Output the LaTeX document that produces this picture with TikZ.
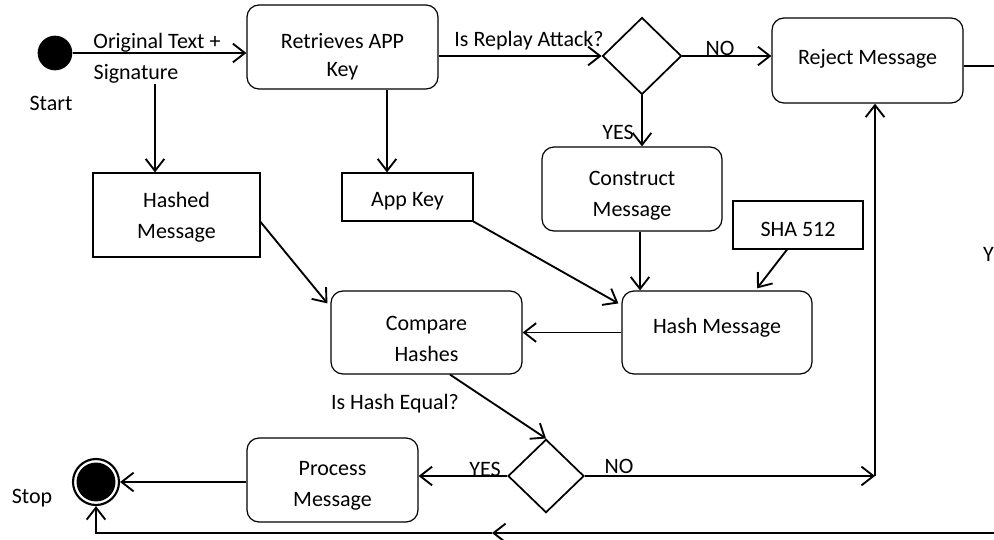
\documentclass[tikz,border=0pt]{standalone}
\usepackage{fontspec}
\setmainfont{Carlito}
\usetikzlibrary{arrows.meta,shapes.geometric,calc}
\begin{document}
\begin{tikzpicture}[x=0.75pt,y=-0.75pt,
  every node/.style={font=\fontsize{16.5}{23}\selectfont, text=black},
  rbox/.style={draw, rounded corners=9pt, line width=0.9pt, inner sep=0pt},
  sbox/.style={draw, line width=0.9pt, inner sep=0pt},
  dec/.style={draw, diamond, line width=1.3pt, inner sep=0pt},
  arr/.style={line width=1.4pt, -{Straight Barb[length=9pt,width=14pt,line width=1.4pt]}},
  txt/.style={inner sep=0pt, align=center},
  lbl/.style={inner sep=0pt}]
\useasboundingbox (0,0) rectangle (994,539);

% shapes
\node[circle, fill=black, minimum size=26pt, inner sep=0pt] (start) at (55,53) {};
\node[rbox, minimum width=143.25pt, minimum height=63pt] (retrieves) at (342.5,47) {};
\node[dec, minimum width=59.25pt, minimum height=57.75pt] (d1) at (642,56) {};
\node[rbox, minimum width=143.25pt, minimum height=63.75pt] (reject) at (867.5,60.5) {};
\node[rbox, minimum width=135pt, minimum height=63pt] (construct) at (632,189) {};
\node[sbox, minimum width=97.5pt, minimum height=36pt] (sha) at (798,225) {};
\node[rbox, minimum width=142.5pt, minimum height=62.25pt] (hash) at (717,332.5) {};
\node[rbox, minimum width=143.25pt, minimum height=62.25pt] (compare) at (426.5,332.5) {};
\node[sbox, minimum width=125.25pt, minimum height=63pt] (hashed) at (176.5,215) {};
\node[sbox, minimum width=98.25pt, minimum height=36pt] (appkey) at (407.5,197) {};
\node[dec, minimum width=57pt, minimum height=55pt] (d2) at (546,476) {};
\node[rbox, minimum width=128.25pt, minimum height=63pt] (process) at (332.5,480) {};
\node[circle, draw, line width=1.6pt, minimum size=34.5pt, inner sep=0pt] (stop) at (96,482) {};
\fill (stop.center) circle (14.6pt);

% texts of the shapes
\node[txt, font=\fontsize{16.5}{21}\selectfont] (tretrieves) at (342.5,57) {Retrieves APP\\Key};
\node[txt] (treject) at (867.5,58.5) {Reject Message};
\node[txt] (tconstruct) at (632,195.5) {Construct\\Message};
\node[txt] (tsha) at (798,229.5) {SHA 512};
\node[txt] (thash) at (717,327.5) {Hash Message};
\node[txt] (tcompare) at (426.5,339) {Compare\\Hashes};
\node[txt] (thashed) at (176.5,217.5) {Hashed\\Message};
\node[txt] (tappkey) at (407.5,201.5) {App Key};
\node[txt] (tprocess) at (332.5,486) {Process\\Message};
\node[lbl] (starttxt) at (51,103) {Start};
\node[lbl] (stoptxt) at (32,498) {Stop};

% connector labels
\node[lbl] (l1) at (157,43) {Original Text +};
\node[lbl] (l2) at (136,74) {Signature};
\node[lbl] (l3) at (529,41) {Is Replay Attack?};
\node[lbl] (l4) at (720,48) {NO};
\node[lbl] (l5) at (618,132) {YES};
\node[lbl] (l6) at (395,404) {Is Hash Equal?};
\node[lbl] (l7) at (485,469) {YES};
\node[lbl] (l8) at (619,466) {NO};
\node[lbl, anchor=east] (l9) at (994,254) {Y};

% coordinates
\coordinate (sig) at (155,84);
\coordinate (rk) at ($(retrieves.south)+(44.5,0)$);
\coordinate (rejout) at (1000,66);
\coordinate (c1) at (875,476);
\coordinate (e2) at (1000,533);
\coordinate (m2) at (492,533);
\coordinate (c2) at (stop.south |- e2);

% connectors
\draw[arr] (start.east) -- (start.east -| retrieves.west);
\draw[arr] (sig) -- (sig |- hashed.north);
\draw[arr] (rk) -- (rk |- appkey.north);
\draw[arr] (retrieves.east |- d1) -- (d1.west);
\draw[arr] (d1.east) -- (d1.east -| reject.west);
\draw[arr] (d1.south) -- (d1.south |- construct.north);
\draw[line width=0.9pt] (reject.east |- rejout) -- (rejout);
\draw[arr] ($(construct.south)+(8,0)$) -- ($(hash.north -| construct.south)+(8,0)$);
\draw[arr] ($(sha.south)+(-11,0)$) -- ($(hash.north)+(40,-2)$);
\draw[arr] (appkey.south east) -- ($(hash.north west)+(-3,13)$);
\draw[arr] ($(hashed.east)+(0,7)$) -- ($(compare.north west)+(-3,13)$);
\draw[arr] (hash.west) -- (compare.east);
\draw[arr] ($(compare.south)+(23.5,0)$) -- (d2.north);
\draw[arr] (d2.west) -- (d2.west -| process.east);
\draw[arr] (process.west |- stop) -- (stop.east);
\draw[arr] (d2.east) -- (c1);
\draw[arr] (c1) -- (c1 |- reject.south);
\draw[arr] (e2) -- (m2);
\draw[arr] (m2) -- (c2) -- (stop.south);
\end{tikzpicture}
\end{document}
